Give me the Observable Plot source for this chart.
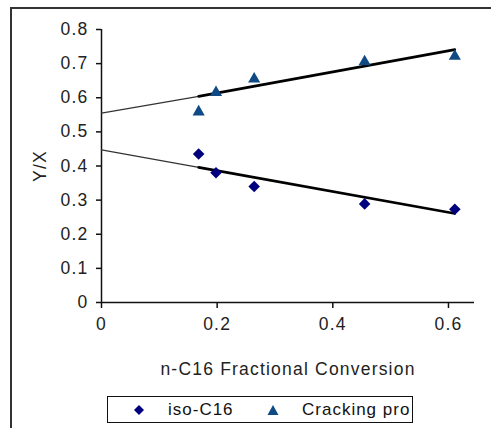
<!DOCTYPE html>
<html>
<head>
<meta charset="utf-8">
<script src="https://cdn.jsdelivr.net/npm/d3@7"></script>
<script src="https://cdn.jsdelivr.net/npm/@observablehq/plot@0.6"></script>
<style>
  html, body { margin: 0; padding: 0; background: #fff; }
  #wrap { position: relative; width: 491px; height: 428px; overflow: hidden; font-family: "Liberation Sans", Arial, sans-serif; }
  #frame { position: absolute; left: 10px; top: 7px; width: 600px; height: 600px; border-top: 2px solid #333; border-left: 2px solid #333; box-sizing: border-box; }
  #legend { position: absolute; left: 107px; top: 396px; width: 306px; height: 27px; border: 1.5px solid #111; box-sizing: border-box; background: #fff; font-size: 17px; letter-spacing: 1px; color: #111; }
  #legend .item { position: absolute; top: 2px; line-height: 22px; white-space: nowrap; }
  #legend svg { position: absolute; }
  #chart { position: absolute; left: 0; top: 0; }
</style>
</head>
<body>
<div id="wrap">
  <div id="frame"></div>
  <div id="chart"></div>
  <div id="legend">
    <svg style="left:24px;top:6px" width="14" height="14"><path d="M7,2L12,7L7,12L2,7Z" fill="#00007f"/></svg>
    <span class="item" style="left:60px">iso-C16</span>
    <svg style="left:158px;top:6px" width="14" height="14"><path d="M7,2L12.5,12L1.5,12Z" fill="#0f4a85"/></svg>
    <span class="item" style="left:194px">Cracking pro</span>
  </div>
</div>
<script>
// Data
const conversion = [0.168, 0.198, 0.264, 0.455, 0.611];
const isoC16 = [0.435, 0.38, 0.34, 0.289, 0.273];
const cracking = [0.563, 0.62, 0.659, 0.71, 0.726];

// Linear trend lines as drawn
const trendX = [0, 0.168, 0.611];
const trendIso = [0.447, 0.396, 0.261];
const trendCrack = [0.555, 0.604, 0.741];

const yTicks = [0, 0.1, 0.2, 0.3, 0.4, 0.5, 0.6, 0.7, 0.8];
const xTicks = [0, 0.2, 0.4, 0.6];

const isoData = conversion.map((x, i) => ({x, y: isoC16[i]}));
const crackData = conversion.map((x, i) => ({x, y: cracking[i]}));
const trendIsoData = trendX.map((x, i) => ({x, y: trendIso[i]}));
const trendCrackData = trendX.map((x, i) => ({x, y: trendCrack[i]}));

const fmt = d => d === 0 ? "0" : d.toFixed(1);

const chart = Plot.plot({
  width: 491,
  height: 428,
  marginLeft: 101,
  marginRight: 17,
  marginTop: 29,
  marginBottom: 126,
  style: { fontFamily: "Liberation Sans, Arial, sans-serif", fontSize: "17.5px", color: "#222", background: "transparent", letterSpacing: "1.2px" },
  x: { domain: [0, 0.645] },
  y: { domain: [0, 0.8] },
  marks: [
    Plot.axisY({ ticks: yTicks, tickFormat: fmt, tickSize: 5, tickPadding: 8, stroke: "#111", strokeWidth: 1.5,
                 label: "Y/X", labelAnchor: "center", labelArrow: "none", labelOffset: 68 }),
    Plot.axisX({ ticks: xTicks, tickFormat: fmt, tickSize: 6, tickPadding: 9, stroke: "#111", strokeWidth: 1.5,
                 label: "n-C16 Fractional Conversion", labelAnchor: "center", labelArrow: "none", labelOffset: 72 }),
    Plot.ruleX([0], { stroke: "#111", strokeWidth: 1.5 }),
    Plot.ruleY([0], { stroke: "#111", strokeWidth: 1.5 }),
    // thin backward extension
    Plot.line(trendCrackData.slice(0, 2), { x: "x", y: "y", stroke: "#333", strokeWidth: 1.2 }),
    Plot.line(trendIsoData.slice(0, 2), { x: "x", y: "y", stroke: "#333", strokeWidth: 1.2 }),
    // thick trendline over data range
    Plot.line(trendCrackData.slice(1), { x: "x", y: "y", stroke: "#000", strokeWidth: 2.6 }),
    Plot.line(trendIsoData.slice(1), { x: "x", y: "y", stroke: "#000", strokeWidth: 2.6 }),
    Plot.dot(isoData, { x: "x", y: "y", symbol: "diamond2", r: 5.2, fill: "#00007f", stroke: "none" }),
    Plot.dot(crackData, { x: "x", y: "y", symbol: "triangle2", r: 5.8, fill: "#0f4a85", stroke: "none", dy: 1.5 })
  ]
});
document.getElementById("chart").appendChild(chart);
</script>
</body>
</html>
